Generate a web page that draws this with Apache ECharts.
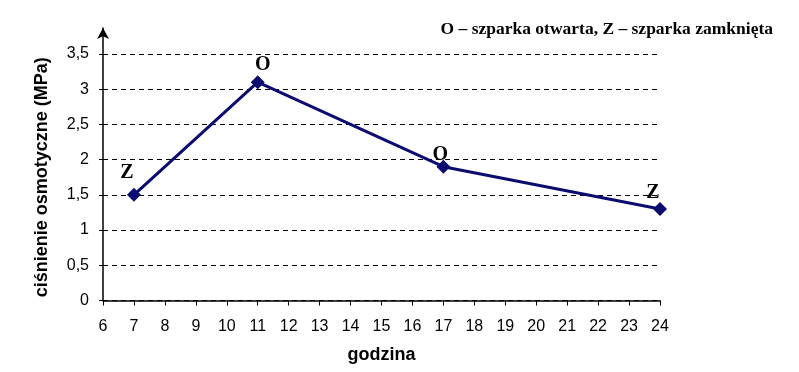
<!DOCTYPE html>
<html>
<head>
<meta charset="utf-8">
<script src="https://cdn.jsdelivr.net/npm/echarts@6/dist/echarts.min.js"></script>
<style>
html,body{margin:0;padding:0;background:#fff;}
#c{width:799px;height:372px;}
</style>
</head>
<body>
<div id="c"></div>
<script>
const hours = [7, 11, 17, 24];
const pressure = [1.5, 3.1, 1.9, 1.3];
const stateLabels = ['Z', 'O', 'O', 'Z'];
const xTicks = [6, 7, 8, 9, 10, 11, 12, 13, 14, 15, 16, 17, 18, 19, 20, 21, 22, 23, 24];
const yTicks = [0, 0.5, 1, 1.5, 2, 2.5, 3, 3.5];
const labelOffsets = [[-7, 0], [5, 5], [-3, 10], [-7, 6]];

const chart = echarts.init(document.getElementById('c'), null, {renderer: 'canvas'});
const fmt = v => String(v).replace('.', ',');

chart.setOption({
  animation: false,
  backgroundColor: '#fff',
  title: {
    text: 'O – szparka otwarta, Z – szparka zamknięta',
    right: 21, top: 15,
    textStyle: {fontFamily: 'Liberation Serif', fontWeight: 'bold', fontSize: 17.5, color: '#000'}
  },
  grid: [
    {left: 103, right: 139, top: 54, bottom: 71.5},
    {left: 103, right: 139, top: 28, bottom: 71.5}
  ],
  xAxis: [{
    type: 'value', gridIndex: 0,
    min: xTicks[0], max: xTicks[xTicks.length - 1], interval: 1,
    name: 'godzina', nameLocation: 'middle', nameGap: 46,
    nameTextStyle: {fontFamily: 'Liberation Sans', fontWeight: 'bold', fontSize: 18, color: '#000'},
    axisLine: {lineStyle: {color: '#000', width: 1.5}},
    axisTick: {length: 5, lineStyle: {color: '#000', width: 1}},
    axisLabel: {margin: 18, fontFamily: 'Liberation Sans', fontSize: 16, color: '#000'},
    splitLine: {show: false}
  }, {
    type: 'value', gridIndex: 1, show: false, min: 0, max: 1
  }],
  yAxis: [{
    type: 'value', gridIndex: 0,
    min: yTicks[0], max: yTicks[yTicks.length - 1], interval: 0.5,
    name: 'ciśnienie osmotyczne (MPa)', nameLocation: 'middle', nameGap: 52,
    nameTextStyle: {fontFamily: 'Liberation Sans', fontWeight: 'bold', fontSize: 18, color: '#000'},
    axisLine: {show: false},
    axisTick: {show: true, length: 4, lineStyle: {color: '#000', width: 1}},
    axisLabel: {margin: 14, fontFamily: 'Liberation Sans', fontSize: 16, color: '#000', formatter: fmt},
    splitLine: {show: true, lineStyle: {color: '#000', width: 1, type: [5, 4]}}
  }, {
    type: 'value', gridIndex: 1, min: 0, max: 1,
    axisLine: {show: true, symbol: ['none', 'arrow'], symbolSize: [9, 11], lineStyle: {color: '#000', width: 1.5}},
    axisTick: {show: false}, axisLabel: {show: false}, splitLine: {show: false}
  }],
  series: [{
    type: 'line',
    xAxisIndex: 0, yAxisIndex: 0,
    data: hours.map((h, i) => ({
      value: [h, pressure[i]],
      label: {show: true, position: 'top', formatter: stateLabels[i], offset: labelOffsets[i]}
    })),
    symbol: 'diamond', symbolSize: 14,
    itemStyle: {color: '#0b0b70'},
    lineStyle: {color: '#0b0b70', width: 3},
    label: {fontFamily: 'Liberation Serif', fontWeight: 'bold', fontSize: 20, color: '#000'}
  }]
});
</script>
</body>
</html>
